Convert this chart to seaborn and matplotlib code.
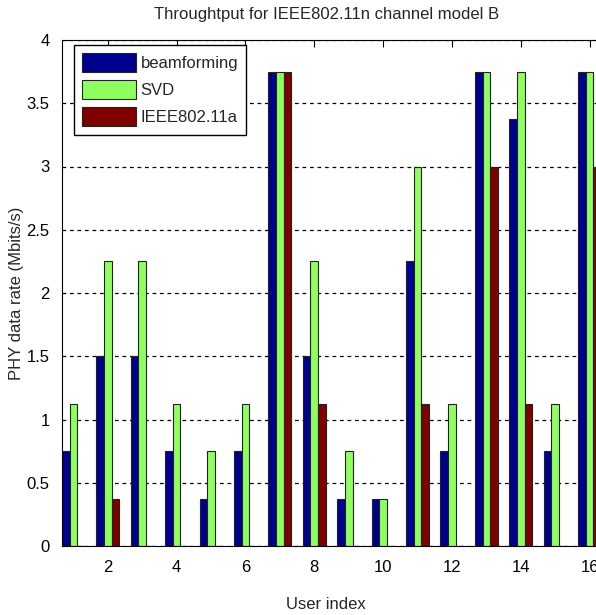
import pandas as pd
import matplotlib
matplotlib.use("Agg")
import matplotlib.pyplot as plt
import seaborn as sns

users = list(range(1, 17))
beamforming = [0.75, 1.5, 1.5, 0.75, 0.375, 0.75, 3.75, 1.5, 0.375, 0.375, 2.25, 0.75, 3.75, 3.375, 0.75, 3.75]
svd = [1.125, 2.25, 2.25, 1.125, 0.75, 1.125, 3.75, 2.25, 0.75, 0.375, 3.0, 1.125, 3.75, 3.75, 1.125, 3.75]
ieee = [0, 0.375, 0, 0, 0, 0, 3.75, 1.125, 0, 0, 1.125, 0, 3.0, 1.125, 0, 3.0]
schemes = ['beamforming', 'SVD', 'IEEE802.11a']
colors = ['#00008F', '#8FFF60', '#800000']

df = pd.DataFrame({
    'User': users * 3,
    'Scheme': [s for s in schemes for _ in users],
    'Rate': beamforming + svd + ieee,
})

sns.set_style('white')
plt.rcParams['font.family'] = ['Liberation Sans Narrow', 'Liberation Sans', 'DejaVu Sans']

fig = plt.figure(figsize=(5.96, 6.15), dpi=100)
ax = fig.add_axes([62 / 596, 69 / 615, 539 / 596, 506 / 615])

sns.barplot(data=df, x='User', y='Rate', hue='Scheme', palette=colors,
            width=0.667, saturation=1, edgecolor='#222222', linewidth=0.8, ax=ax)

ax.set_xlim(-0.333, 15.333)
ax.set_ylim(0, 4)
ax.set_xticks(range(1, 16, 2))
ax.set_xticklabels([str(u) for u in users[1::2]])
ax.set_yticks([0, 0.5, 1, 1.5, 2, 2.5, 3, 3.5, 4])
ax.set_yticklabels(['0', '0.5', '1', '1.5', '2', '2.5', '3', '3.5', '4'])
ax.tick_params(direction='in', length=5, width=0.8, top=True, right=True,
               labelsize=12, colors='black')
ax.tick_params(axis='y', pad=9)
ax.tick_params(axis='x', pad=10)
ax.set_axisbelow(True)
ax.yaxis.grid(True, linestyle=(0, (3, 3)), color='black', linewidth=0.9)
for s in ax.spines.values():
    s.set_color('black')
    s.set_linewidth(0.8)

ax.set_title('Throughtput for IEEE802.11n channel model B', fontsize=12, pad=15, x=0.49)
ax.set_xlabel('User index', fontsize=12)
ax.xaxis.set_label_coords(0.49, -0.10)
ax.set_ylabel('PHY data rate (Mbits/s)', fontsize=12)
ax.yaxis.set_label_coords(-0.07, 0.5)

ax.legend(loc='upper left', bbox_to_anchor=(0.022, 0.99), borderaxespad=0,
          fontsize=12, handlelength=3.2, handleheight=1.35, labelspacing=0.5,
          handletextpad=0.3, borderpad=0.5, fancybox=False, edgecolor='black',
          framealpha=1, title=None)

fig.savefig('out.png', dpi=100)
